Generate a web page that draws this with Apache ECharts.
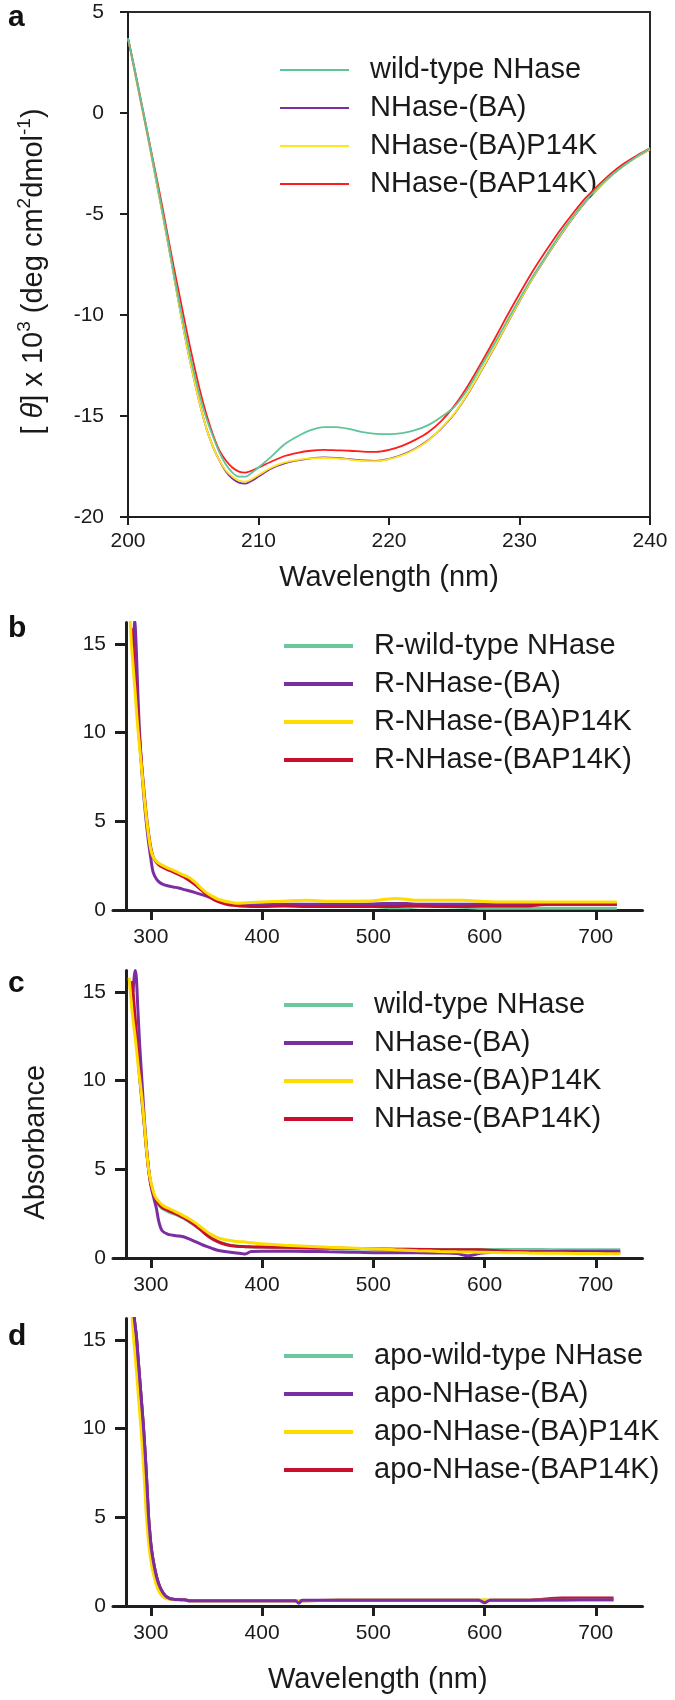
<!DOCTYPE html>
<html>
<head>
<meta charset="utf-8">
<script src="https://cdn.jsdelivr.net/npm/echarts@6/dist/echarts.min.js"></script>
<style>
html,body{margin:0;padding:0;background:#fff;}
.layer{position:absolute;left:0;top:0;width:675px;height:1700px;}
</style>
</head>
<body>
<div id="pa" class="layer"></div>
<div id="pb" class="layer"></div>
<div id="pc" class="layer"></div>
<div id="pd" class="layer"></div>
<script>
// ---------- Panel a : CD spectra ----------
const A_WL = [200,200.5,201,201.5,202,202.5,203,203.5,204,204.5,205,205.5,206,206.5,207,207.5,208,208.5,209,209.5,210,211,212,213,214,215,216,217,218,219,220,221,222,223,224,225,226,227,228,229,230,231,232,233,234,235,236,237,238,239,240];
const A_WILD = [3.7,2.2,0.6,-1.0,-2.7,-4.4,-6.1,-7.9,-9.6,-11.2,-12.7,-14.0,-15.1,-16.0,-16.8,-17.4,-17.8,-18.0,-18.0,-17.8,-17.55,-17.0,-16.4,-16.0,-15.7,-15.55,-15.55,-15.65,-15.8,-15.88,-15.9,-15.85,-15.7,-15.45,-15.05,-14.55,-13.7,-12.6,-11.5,-10.35,-9.2,-8.1,-7.1,-6.1,-5.2,-4.4,-3.7,-3.1,-2.6,-2.15,-1.75];
const A_BA = [3.7,2.1,0.5,-1.1,-2.8,-4.5,-6.2,-8.0,-9.8,-11.5,-13.0,-14.4,-15.6,-16.5,-17.2,-17.75,-18.1,-18.3,-18.35,-18.2,-18.0,-17.6,-17.35,-17.2,-17.1,-17.05,-17.08,-17.14,-17.2,-17.22,-17.12,-16.92,-16.62,-16.2,-15.62,-14.9,-13.95,-12.85,-11.7,-10.5,-9.32,-8.2,-7.18,-6.2,-5.28,-4.45,-3.75,-3.12,-2.6,-2.17,-1.8];
const A_BA_P14K = [3.7,2.1,0.5,-1.1,-2.8,-4.5,-6.2,-8.0,-9.8,-11.5,-13.0,-14.4,-15.6,-16.5,-17.2,-17.7,-18.0,-18.2,-18.25,-18.12,-17.92,-17.55,-17.3,-17.17,-17.1,-17.08,-17.1,-17.16,-17.22,-17.24,-17.14,-16.95,-16.65,-16.22,-15.6,-14.88,-13.92,-12.82,-11.68,-10.48,-9.3,-8.18,-7.16,-6.18,-5.26,-4.43,-3.74,-3.11,-2.6,-2.16,-1.8];
const A_BAP14K = [3.7,2.2,0.6,-1.0,-2.6,-4.2,-5.9,-7.6,-9.2,-10.8,-12.3,-13.7,-14.9,-15.9,-16.7,-17.2,-17.55,-17.75,-17.8,-17.7,-17.55,-17.25,-16.98,-16.82,-16.72,-16.68,-16.7,-16.72,-16.76,-16.78,-16.68,-16.48,-16.18,-15.8,-15.25,-14.5,-13.55,-12.45,-11.3,-10.1,-8.95,-7.85,-6.85,-5.9,-5.05,-4.25,-3.6,-3.0,-2.5,-2.1,-1.75];
const A_NAMES = ['wild-type NHase','NHase-(BA)','NHase-(BA)P14K','NHase-(BAP14K)'];

// ---------- Panel b : R- absorbance ----------
const B_WL = [281.5,282.5,283,284,285,285.5,286,287,288,289,290,292,294,296,298,300,302,305,308,311,315,320,325,330,335,340,345,350,355,360,365,370,375,380,390,400,420,440,460,480,500,510,520,530,540,560,580,600,620,640,650,660,680,700,719];
const B_WILD = [null,null,15.9,15.2,14.0,13.5,13.0,12.0,11.0,10.1,9.3,7.9,6.5,5.2,4.2,3.4,3.0,2.72,2.55,2.45,2.33,2.2,2.05,1.9,1.75,1.5,1.22,0.95,0.75,0.6,0.5,0.42,0.36,0.32,0.3,0.3,0.3,0.28,0.25,0.22,0.2,0.15,0.12,0.12,0.18,0.18,0.15,0.1,0.1,0.1,0.1,0.1,0.1,0.1,0.1];
const B_BA = [null,null,null,14.8,15.8,16.3,16.0,14.6,12.8,11.2,9.9,7.8,6.2,4.9,3.8,2.9,2.15,1.75,1.55,1.45,1.37,1.3,1.24,1.15,1.07,0.98,0.88,0.78,0.66,0.55,0.45,0.36,0.3,0.28,0.28,0.3,0.32,0.32,0.32,0.32,0.34,0.36,0.36,0.36,0.32,0.32,0.32,0.32,0.32,0.32,0.32,0.32,0.32,0.32,0.32];
const B_BA_P14K = [16.3,15.0,14.6,13.8,13.0,12.6,12.2,11.3,10.5,9.8,9.1,7.8,6.4,5.2,4.2,3.4,3.0,2.75,2.6,2.5,2.38,2.25,2.1,1.95,1.8,1.55,1.25,0.98,0.78,0.62,0.52,0.45,0.4,0.38,0.42,0.45,0.5,0.55,0.5,0.5,0.52,0.6,0.65,0.6,0.55,0.55,0.55,0.48,0.45,0.45,0.45,0.45,0.45,0.45,0.45];
const B_BAP14K = [null,15.6,15.8,15.0,13.9,13.4,12.9,12.0,11.1,10.3,9.5,8.0,6.6,5.3,4.3,3.5,3.0,2.7,2.5,2.4,2.28,2.15,2.0,1.85,1.65,1.42,1.15,0.88,0.65,0.48,0.38,0.3,0.26,0.22,0.2,0.2,0.22,0.2,0.2,0.2,0.2,0.2,0.2,0.22,0.22,0.2,0.2,0.22,0.22,0.22,0.3,0.32,0.33,0.33,0.33];
const B_NAMES = ['R-wild-type NHase','R-NHase-(BA)','R-NHase-(BA)P14K','R-NHase-(BAP14K)'];

// ---------- Panel c : absorbance ----------
const C_WL = [280.5,281.5,283,284,285,286,286.5,287,288,289,290,292,294,296,298,300,303,305,307,310,315,320,325,330,335,340,345,350,355,360,365,370,375,380,385,390,400,420,440,460,480,500,520,540,560,575,585,595,600,620,640,660,680,700,722];
const C_WILD = [null,null,15.4,14.9,14.1,13.3,12.9,12.5,11.7,10.9,10.1,8.8,7.5,6.1,5.0,4.2,3.5,3.2,3.0,2.8,2.62,2.5,2.38,2.22,2.02,1.82,1.58,1.32,1.1,0.95,0.83,0.75,0.69,0.66,0.64,0.62,0.6,0.57,0.55,0.53,0.51,0.5,0.5,0.49,0.48,0.48,0.48,0.48,0.48,0.48,0.48,0.47,0.47,0.47,0.47];
const C_BA = [null,null,null,15.0,15.8,16.2,16.2,15.8,14.5,13.2,12.0,10.0,8.0,6.3,5.0,4.1,3.3,2.8,2.1,1.55,1.35,1.28,1.24,1.18,1.06,0.92,0.78,0.65,0.54,0.44,0.38,0.34,0.3,0.27,0.22,0.36,0.38,0.38,0.37,0.35,0.33,0.3,0.3,0.3,0.28,0.25,0.12,0.25,0.3,0.33,0.35,0.37,0.38,0.38,0.38];
const C_BA_P14K = [15.8,15.0,14.0,13.4,12.9,12.4,12.1,11.8,11.2,10.6,10.1,9.0,7.7,6.2,5.0,4.3,3.6,3.35,3.2,3.0,2.82,2.68,2.52,2.36,2.18,1.98,1.74,1.5,1.3,1.15,1.06,1.0,0.95,0.92,0.9,0.86,0.8,0.72,0.66,0.6,0.56,0.52,0.46,0.41,0.37,0.35,0.34,0.33,0.33,0.3,0.28,0.27,0.26,0.25,0.24];
const C_BAP14K = [null,null,15.6,15.0,14.2,13.4,13.0,12.6,11.8,11.0,10.2,8.9,7.6,6.2,5.0,4.2,3.5,3.25,3.05,2.85,2.7,2.56,2.42,2.25,2.05,1.83,1.58,1.3,1.08,0.92,0.8,0.72,0.67,0.65,0.64,0.63,0.62,0.6,0.58,0.56,0.54,0.52,0.5,0.48,0.47,0.46,0.46,0.46,0.45,0.38,0.35,0.33,0.32,0.31,0.3];
const C_NAMES = ['wild-type NHase','NHase-(BA)','NHase-(BA)P14K','NHase-(BAP14K)'];

// ---------- Panel d : apo absorbance ----------
const D_WL = [282.5,283.5,284.5,285.5,287,288,289,290,291,292,293,294,295,296,297,298,299,300,301,302,304,306,308,310,312,314,317,320,325,330,335,360,400,430,433,436,470,500,550,595,600,605,640,670,700,716];
const D_WILD = [null,17.0,16.6,16.0,15.2,14.4,13.6,12.8,12.0,11.2,10.4,9.5,8.5,7.4,6.2,5.0,4.2,3.5,3.0,2.6,1.95,1.45,1.1,0.85,0.65,0.52,0.42,0.38,0.36,0.35,0.3,0.3,0.3,0.3,0.3,0.3,0.33,0.33,0.33,0.33,0.33,0.33,0.33,0.34,0.35,0.35];
const D_BA = [null,17.0,16.6,16.0,15.2,14.4,13.6,12.8,12.0,11.2,10.4,9.5,8.5,7.4,6.2,5.0,4.2,3.5,3.0,2.6,1.95,1.45,1.1,0.85,0.65,0.52,0.42,0.38,0.36,0.35,0.3,0.3,0.3,0.3,0.15,0.32,0.33,0.33,0.33,0.33,0.18,0.33,0.33,0.34,0.35,0.35];
const D_BA_P14K = [17.0,16.0,15.1,14.4,13.3,12.5,11.7,10.9,10.1,9.2,8.3,7.3,6.2,5.1,4.3,3.6,3.0,2.6,2.2,1.9,1.4,1.0,0.75,0.58,0.48,0.42,0.38,0.35,0.34,0.33,0.3,0.3,0.3,0.3,0.3,0.3,0.32,0.32,0.32,0.32,0.35,0.32,0.32,0.33,0.34,0.34];
const D_BAP14K = [null,17.0,16.6,16.0,15.2,14.4,13.6,12.8,12.0,11.2,10.4,9.5,8.5,7.4,6.2,5.0,4.2,3.5,3.0,2.6,1.95,1.45,1.1,0.85,0.65,0.52,0.42,0.38,0.36,0.35,0.3,0.3,0.3,0.3,0.22,0.3,0.33,0.33,0.33,0.33,0.25,0.33,0.33,0.45,0.45,0.45];
const D_NAMES = ['apo-wild-type NHase','apo-NHase-(BA)','apo-NHase-(BA)P14K','apo-NHase-(BAP14K)'];

const ABS_X_TICKS = [300,400,500,600,700];
const ABS_Y_TICKS = [0,5,10,15];

// ---------- styling ----------
const FONT = 'Liberation Sans, Arial, Helvetica, sans-serif';
const AXIS_COLOR = '#1e1e1e';
const TEXT_COLOR = '#1a1a1a';
const TICK_FS = 21;
const BIG_FS = 29;
const COL_A = {green:'#5fc598', purple:'#7a2ea0', yellow:'#ffe51e', red:'#ff1c1c'};
const COL_B = {green:'#6cc79c', purple:'#7b2ea2', yellow:'#ffdc00', red:'#c8102e'};

function pairs(xs, ys){
  const out = [];
  for (let i = 0; i < xs.length; i++) { if (ys[i] !== null && ys[i] !== undefined) out.push([xs[i], ys[i]]); }
  return out;
}
function lineSeries(name, xs, ys, color, width, z){
  return {type:'line', name:name, data:pairs(xs, ys), showSymbol:false, symbol:'none', smooth:0.3, clip:true,
          lineStyle:{color:color, width:width}, itemStyle:{color:color}, z:z, silent:true};
}
function legendCfg(names, top, left, iconH){
  return {orient:'vertical', left:left, top:top, itemWidth:69, itemHeight:iconH, itemGap:6, icon:'rect',
          data:names, selectedMode:false,
          textStyle:{fontFamily:FONT, fontSize:BIG_FS, color:TEXT_COLOR, lineHeight:32, padding:[0,0,0,16]}};
}
function letter(t, top){
  return {text:t, left:3, top:top, textStyle:{fontFamily:FONT, fontSize:30, fontWeight:'bold', color:'#111'}};
}

// ---------- panel a ----------
const optA = {
  animation:false, backgroundColor:'transparent', textStyle:{fontFamily:FONT},
  title:letter('a', -2),
  grid:{left:128, top:12, width:522, height:505, show:true, borderColor:'#2a2a2a', borderWidth:2, backgroundColor:'transparent', outerBoundsMode:'none'},
  xAxis:{type:'value', min:200, max:240, interval:10,
    axisLine:{onZero:false, lineStyle:{color:AXIS_COLOR, width:2}},
    axisTick:{show:true, length:8, lineStyle:{color:AXIS_COLOR, width:2}},
    axisLabel:{color:TEXT_COLOR, fontSize:TICK_FS, margin:14, fontFamily:FONT},
    splitLine:{show:false},
    name:'Wavelength (nm)', nameLocation:'middle', nameGap:46,
    nameTextStyle:{fontSize:BIG_FS, color:TEXT_COLOR, fontFamily:FONT, lineHeight:29}},
  yAxis:{type:'value', min:-20, max:5, interval:5,
    axisLine:{onZero:false, lineStyle:{color:AXIS_COLOR, width:2}},
    axisTick:{show:true, length:8, lineStyle:{color:AXIS_COLOR, width:2}},
    axisLabel:{color:TEXT_COLOR, fontSize:TICK_FS, margin:24, fontFamily:FONT},
    splitLine:{show:false},
    name:'[ {it|θ}] x 10{sup|3} (deg cm{sup|2}dmol{sup|-1})', nameLocation:'middle', nameGap:75, nameRotate:90,
    nameTextStyle:{fontSize:BIG_FS, color:TEXT_COLOR, fontFamily:FONT, lineHeight:38, padding:[0,14,0,0],
      rich:{it:{fontStyle:'italic', fontSize:BIG_FS, lineHeight:38, fontFamily:FONT, color:TEXT_COLOR},
            sup:{fontSize:19, lineHeight:20, verticalAlign:'top', fontFamily:FONT, color:TEXT_COLOR}}}},
  legend:legendCfg(A_NAMES, 49, 275, 2),
  series:[
    lineSeries(A_NAMES[1], A_WL, A_BA, COL_A.purple, 1.8, 2),
    lineSeries(A_NAMES[2], A_WL, A_BA_P14K, COL_A.yellow, 1.8, 3),
    lineSeries(A_NAMES[3], A_WL, A_BAP14K, COL_A.red, 1.8, 4),
    lineSeries(A_NAMES[0], A_WL, A_WILD, COL_A.green, 1.8, 5)
  ]
};

// ---------- absorbance panels ----------
function absOption(cfg){
  const xAxis = {type:'value', min:266, max:742,
    axisLine:{onZero:false, lineStyle:{color:AXIS_COLOR, width:3}},
    axisTick:{show:true, length:10, lineStyle:{color:AXIS_COLOR, width:3}, customValues:ABS_X_TICKS},
    axisLabel:{color:TEXT_COLOR, fontSize:TICK_FS, margin:17, fontFamily:FONT, customValues:ABS_X_TICKS},
    splitLine:{show:false}};
  if (cfg.xName) {
    xAxis.name = cfg.xName; xAxis.nameLocation = 'middle'; xAxis.nameGap = cfg.xNameGap;
    xAxis.nameTextStyle = {fontSize:BIG_FS, color:TEXT_COLOR, fontFamily:FONT, lineHeight:29};
  }
  const yAxis = {type:'value', min:0, max:16.2, offset:-13,
    axisLine:{onZero:false, lineStyle:{color:AXIS_COLOR, width:3}},
    axisTick:{show:true, length:11, lineStyle:{color:AXIS_COLOR, width:3}, customValues:ABS_Y_TICKS},
    axisLabel:{color:TEXT_COLOR, fontSize:TICK_FS, margin:20, fontFamily:FONT, customValues:ABS_Y_TICKS},
    splitLine:{show:false}};
  if (cfg.yName) {
    yAxis.name = cfg.yName; yAxis.nameLocation = 'middle'; yAxis.nameGap = 74; yAxis.nameRotate = 90;
    yAxis.nameTextStyle = {fontSize:BIG_FS, color:TEXT_COLOR, fontFamily:FONT, lineHeight:32, padding:[0,56,0,0]};
  }
  return {
    animation:false, backgroundColor:'transparent', textStyle:{fontFamily:FONT},
    title:letter(cfg.letter, cfg.letterTop),
    grid:{left:113, top:cfg.top, width:529.5, height:287.5, outerBoundsMode:'none'},
    xAxis:xAxis, yAxis:yAxis,
    legend:legendCfg(cfg.names, cfg.legendTop, 279, 4),
    series:cfg.series
  };
}

const optB = absOption({letter:'b', letterTop:609, top:622.5, names:B_NAMES, legendTop:625,
  series:[
    lineSeries(B_NAMES[0], B_WL, B_WILD, COL_B.green, 3, 2),
    lineSeries(B_NAMES[1], B_WL, B_BA, COL_B.purple, 3, 3),
    lineSeries(B_NAMES[3], B_WL, B_BAP14K, COL_B.red, 3, 4),
    lineSeries(B_NAMES[2], B_WL, B_BA_P14K, COL_B.yellow, 3, 5)
  ]});
const optC = absOption({letter:'c', letterTop:964, top:970.5, names:C_NAMES, legendTop:984, yName:'Absorbance',
  series:[
    lineSeries(C_NAMES[0], C_WL, C_WILD, COL_B.green, 3, 2),
    lineSeries(C_NAMES[1], C_WL, C_BA, COL_B.purple, 3, 3),
    lineSeries(C_NAMES[3], C_WL, C_BAP14K, COL_B.red, 3, 4),
    lineSeries(C_NAMES[2], C_WL, C_BA_P14K, COL_B.yellow, 3, 5)
  ]});
const optD = absOption({letter:'d', letterTop:1317, top:1318.5, names:D_NAMES, legendTop:1335,
  xName:'Wavelength (nm)', xNameGap:59,
  series:[
    lineSeries(D_NAMES[0], D_WL, D_WILD, COL_B.green, 3, 2),
    lineSeries(D_NAMES[3], D_WL, D_BAP14K, COL_B.red, 3, 3),
    lineSeries(D_NAMES[2], D_WL, D_BA_P14K, COL_B.yellow, 3, 4),
    lineSeries(D_NAMES[1], D_WL, D_BA, COL_B.purple, 3, 5)
  ]});

echarts.init(document.getElementById('pa'), null, {renderer:'canvas'}).setOption(optA);
echarts.init(document.getElementById('pb'), null, {renderer:'canvas'}).setOption(optB);
echarts.init(document.getElementById('pc'), null, {renderer:'canvas'}).setOption(optC);
echarts.init(document.getElementById('pd'), null, {renderer:'canvas'}).setOption(optD);
</script>
</body>
</html>
